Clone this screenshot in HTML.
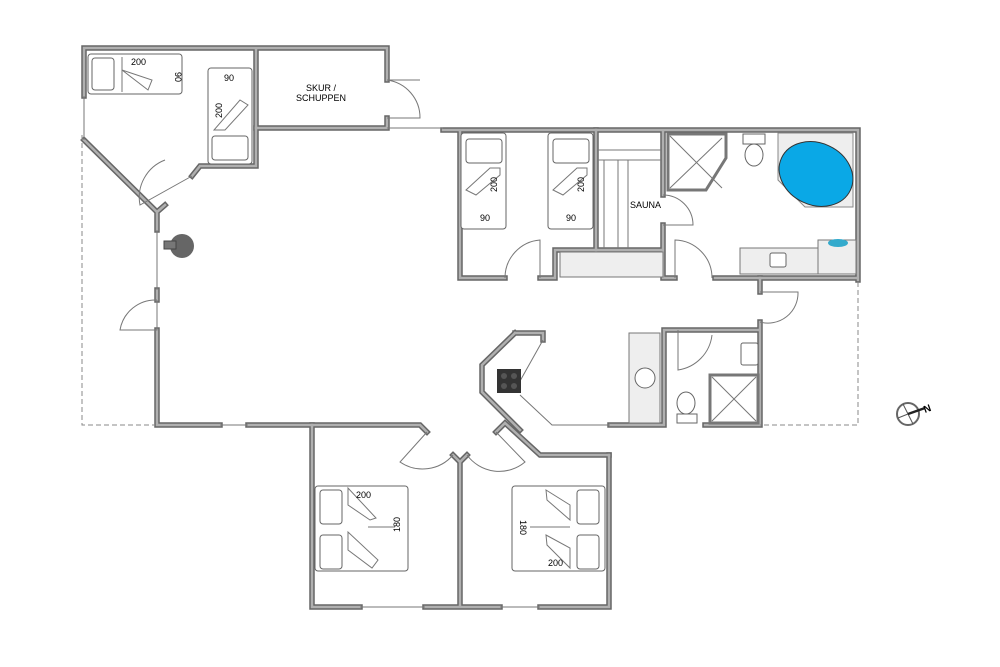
<!DOCTYPE html>
<html><head><style>html,body{margin:0;padding:0;background:#fff}svg{display:block}</style></head><body>
<svg width="1000" height="667" viewBox="0 0 1000 667" xmlns="http://www.w3.org/2000/svg" font-family="Liberation Sans, sans-serif">
<defs>
<style>
.w{fill:none;stroke:#666;stroke-width:5.5;stroke-linejoin:miter;stroke-linecap:square}
.wi{fill:none;stroke:#b0b0b0;stroke-width:2.5;stroke-linejoin:miter;stroke-linecap:square}
.t{fill:none;stroke:#777;stroke-width:1}
.d{fill:none;stroke:#888;stroke-width:1;stroke-dasharray:5,3}
.f{fill:#fff;stroke:#666;stroke-width:1}
.g{fill:#eee;stroke:#777;stroke-width:1}
</style>
<g id="walls">
<path d="M84 96 V48 H387 V80 M387 118 V128 H256 V48"/>
<path d="M256 128 V166 H200 L192 176 M165 205 L157 212 L84 140 M157 212 V230 M157 290 V300 M157 330 V425 H220 M248 425 H420 L427 432"/>
<path d="M312 425 V607 H360 M425 607 H500 M540 607 H609 V455 M460 462 V607"/>
<path d="M460 462 L453 455 M460 462 L467 455 M496 432 L505 423 L540 455 H609"/>
<path d="M443 130 H858 V280 M460 130 V278 H505 M540 278 H555 V250 H663 V278 H675 M715 278 H858 M663 130 V195 M663 225 V250"/>
<path d="M596 130 V250 M760 278 V292 M760 322 V425 H705 M664 425 V330 H760 M664 425 H610"/>
<path d="M515 333 H543 V340 M515 333 L482 365 V392 L520 430"/>
</g>
</defs>
<use href="#walls" class="w"/>
<use href="#walls" class="wi"/>
<path class="d" d="M82 135 V425 H155 M858 282 V425 H760"/>
<path class="t" d="M84 96 V140 M387 128 H443 M157 230 V290 M220 425 H248 M360 607 H425 M500 607 H540"/>
<path class="t" d="M387 80 L420 80 M387 80 A38 38 0 0 1 420 118 L387 118"/>
<path class="t" d="M192 176 L140 205 A40 40 0 0 1 165 160"/>
<path class="t" d="M157 300 V330 H120 A36 36 0 0 1 157 300"/>
<path class="t" d="M505 278 A38 38 0 0 1 540 240 V278"/>
<path class="t" d="M675 278 V240 A38 38 0 0 1 712 278"/>
<path class="t" d="M663 195 A30 30 0 0 1 693 225 H663"/>
<path class="t" d="M760 292 H798 A30 30 0 0 1 760 322"/>
<path class="t" d="M678 330 V370 A40 40 0 0 0 712 335"/>
<path class="t" d="M427 432 L400 462 A40 40 0 0 0 453 455 M496 432 L525 462 A40 40 0 0 1 467 455"/>
<rect class="f" x="88" y="54" width="94" height="40" rx="3"/>
<rect class="f" x="92" y="58" width="22" height="32" rx="3"/>
<path class="t" d="M122 57 V92 M122 70 L148 90 L152 80 Z"/>
<text x="131" y="65" font-size="9">200</text>
<text x="175" y="72" font-size="9" transform="rotate(90 175 72)">90</text>
<rect class="f" x="208" y="68" width="44" height="96" rx="3"/>
<rect class="f" x="212" y="136" width="36" height="24" rx="3"/>
<path class="t" d="M214 130 H225 L248 105 L240 100 Z"/>
<text x="224" y="81" font-size="9">90</text>
<text x="222" y="118" font-size="9" transform="rotate(-90 222 118)">200</text>
<text x="321" y="91" font-size="9" text-anchor="middle">SKUR /</text>
<text x="321" y="101" font-size="9" text-anchor="middle">SCHUPPEN</text>
<circle cx="182" cy="246" r="12" fill="#666"/>
<rect x="164" y="241" width="12" height="8" fill="#777" stroke="#444" stroke-width="1"/>
<rect class="f" x="461" y="133" width="45" height="96" rx="3"/>
<rect class="f" x="466" y="139" width="36" height="24" rx="3"/>
<rect class="f" x="548" y="133" width="45" height="96" rx="3"/>
<rect class="f" x="553" y="139" width="36" height="24" rx="3"/>
<path class="t" d="M466 190 L490 168 H500 V175 L476 195 Z M553 190 L577 168 H587 V175 L563 195 Z"/>
<text x="480" y="221" font-size="9">90</text><text x="566" y="221" font-size="9">90</text>
<text x="497" y="192" font-size="9" transform="rotate(-90 497 192)">200</text>
<text x="584" y="192" font-size="9" transform="rotate(-90 584 192)">200</text>
<path class="t" d="M598 150 H662 M598 160 H662 M604 160 V248 M618 160 V248 M628 160 V248"/>
<rect class="g" x="560" y="252" width="103" height="25"/>
<text x="630" y="208" font-size="9">SAUNA</text>
<path d="M668 134 H726 V158 L706 190 H668 Z" fill="#fff" stroke="#777" stroke-width="3"/>
<path class="t" d="M670 136 L722 188 M722 138 L670 188"/>
<rect class="f" x="743" y="134" width="22" height="10"/>
<ellipse class="f" cx="754" cy="155" rx="9" ry="11"/>
<path d="M778 133 H853 V207 H805 L778 180 Z" fill="#eee" stroke="#888"/>
<ellipse cx="816" cy="174" rx="38" ry="31" fill="#0aa8e6" stroke="#333" transform="rotate(25 816 174)"/>
<rect class="g" x="740" y="248" width="78" height="26"/>
<rect class="f" x="770" y="253" width="16" height="14" rx="2"/>
<rect class="g" x="818" y="240" width="38" height="34"/>
<ellipse cx="838" cy="243" rx="10" ry="4" fill="#3ac"/>
<path class="t" d="M543 340 L520 381 M520 395 L552 425 H610"/>
<rect x="497" y="369" width="24" height="24" fill="#333"/>
<circle cx="504" cy="376" r="3" fill="#555"/><circle cx="514" cy="376" r="3" fill="#555"/><circle cx="504" cy="386" r="3" fill="#555"/><circle cx="514" cy="386" r="3" fill="#555"/>
<rect class="g" x="629" y="333" width="31" height="90"/>
<circle class="f" cx="645" cy="378" r="10"/>
<ellipse class="f" cx="686" cy="403" rx="9" ry="11"/>
<rect class="f" x="677" y="414" width="20" height="9"/>
<rect class="f" x="741" y="343" width="17" height="22" rx="2"/>
<rect x="710" y="375" width="48" height="48" fill="#fff" stroke="#777" stroke-width="3"/>
<path class="t" d="M712 377 L756 421 M756 377 L712 421"/>
<rect class="f" x="315" y="486" width="93" height="85" rx="3"/>
<rect class="f" x="320" y="490" width="22" height="34" rx="3"/><rect class="f" x="320" y="535" width="22" height="34" rx="3"/>
<path class="t" d="M348 488 V505 L370 520 L376 518 Z M348 532 V550 L372 568 L378 560 Z M368 527 H395"/>
<text x="356" y="498" font-size="9">200</text>
<text x="400" y="532" font-size="9" transform="rotate(-90 400 532)">180</text>
<rect class="f" x="512" y="486" width="93" height="85" rx="3"/>
<rect class="f" x="577" y="490" width="22" height="34" rx="3"/><rect class="f" x="577" y="535" width="22" height="34" rx="3"/>
<path class="t" d="M546 490 L570 505 V520 L547 500 Z M546 535 L570 548 V568 L547 545 Z M530 527 H570"/>
<text x="548" y="566" font-size="9">200</text>
<text x="520" y="520" font-size="9" transform="rotate(90 520 520)">180</text>
<circle cx="908" cy="414" r="11" fill="none" stroke="#666" stroke-width="2"/>
<path d="M898 418 L918 410 M903 404 L913 424" stroke="#555" stroke-width="1"/>
<path d="M908 414 L925 408" stroke="#222" stroke-width="2.5"/>
<text x="925" y="413" font-size="10" font-weight="bold" transform="rotate(-20 925 413)">N</text>
</svg>
</body></html>
